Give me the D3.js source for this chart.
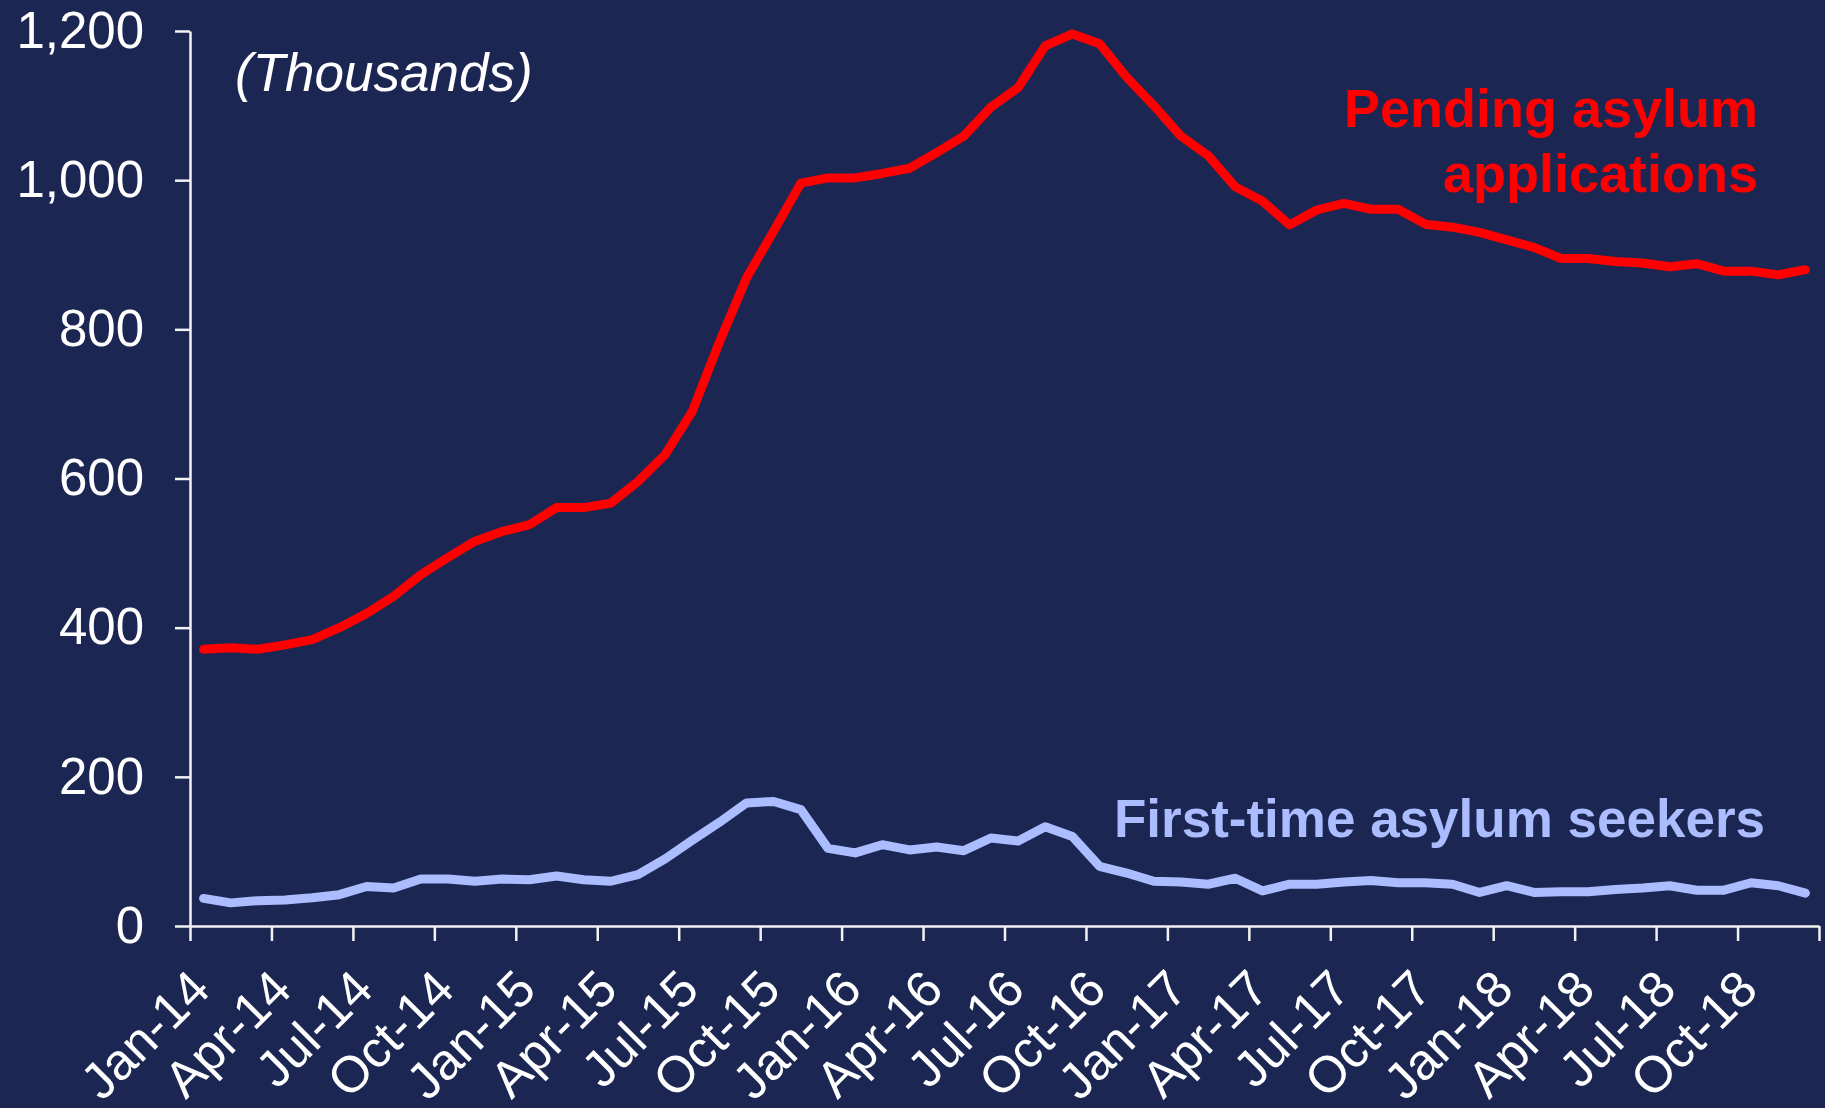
<!DOCTYPE html>
<html>
<head>
<meta charset="utf-8">
<script src="https://cdn.jsdelivr.net/npm/d3@7"></script>
<style>
  body { margin: 0; background: #1c2652; }
  svg { display: block; }
</style>
</head>
<body>
<div class="chart"></div>
<script>
// monthly categories, Jan-14 .. Dec-18
const months = [
  "Jan-14","Feb-14","Mar-14","Apr-14","May-14","Jun-14","Jul-14","Aug-14","Sep-14","Oct-14","Nov-14","Dec-14",
  "Jan-15","Feb-15","Mar-15","Apr-15","May-15","Jun-15","Jul-15","Aug-15","Sep-15","Oct-15","Nov-15","Dec-15",
  "Jan-16","Feb-16","Mar-16","Apr-16","May-16","Jun-16","Jul-16","Aug-16","Sep-16","Oct-16","Nov-16","Dec-16",
  "Jan-17","Feb-17","Mar-17","Apr-17","May-17","Jun-17","Jul-17","Aug-17","Sep-17","Oct-17","Nov-17","Dec-17",
  "Jan-18","Feb-18","Mar-18","Apr-18","May-18","Jun-18","Jul-18","Aug-18","Sep-18","Oct-18","Nov-18","Dec-18"
];

// thousands
const pending = [
  371, 373, 371, 377, 384, 400, 419, 442, 471, 494, 516, 529,
  538, 561, 561, 567, 596, 632, 690, 783, 869, 932, 996, 1003,
  1003, 1009, 1016, 1037, 1059, 1098, 1124, 1180, 1196, 1183, 1138, 1100,
  1059, 1033, 991, 972, 940, 960, 969, 961, 961, 941, 937, 930,
  920, 910, 895, 895, 891, 889, 884, 888, 878, 878, 873, 880
];

const firstTime = [
  37, 31, 34, 35, 38, 42, 53, 51, 63, 63, 60, 63,
  62, 67, 62, 60, 69, 90, 115, 139, 165, 167, 156, 104,
  98, 109, 102, 106, 101, 118, 114, 133, 120, 80, 71, 60,
  59, 56, 64, 47, 56, 56, 59, 61, 58, 58, 56, 45,
  54, 45, 46, 46, 49, 51, 54, 48, 48, 58, 54, 44
];

const xTickLabels = [
  "Jan-14","Apr-14","Jul-14","Oct-14","Jan-15","Apr-15","Jul-15","Oct-15","Jan-16","Apr-16",
  "Jul-16","Oct-16","Jan-17","Apr-17","Jul-17","Oct-17","Jan-18","Apr-18","Jul-18","Oct-18"
];
const yTicks = [0, 200, 400, 600, 800, 1000, 1200];

const svgWidth = 1825, svgHeight = 1108;
const plot = { left: 190, right: 1819, top: 31, bottom: 926 };

const svg = d3.select('div.chart')
  .append('svg')
  .attr('width', svgWidth)
  .attr('height', svgHeight);

svg.append('rect')
  .attr('width', svgWidth)
  .attr('height', svgHeight)
  .attr('fill', '#1c2652');

// category boundaries on a linear scale, points sit in the middle of each month
const xb = d3.scaleLinear().domain([0, months.length]).range([plot.left, plot.right]);
const xc = function (i) { return xb(i + 0.5); };

const y = d3.scaleLinear().domain([0, 1200]).range([plot.bottom, plot.top]);

const y_axis = d3.axisLeft(y)
  .tickValues(yTicks)
  .tickFormat(d3.format(","))
  .tickSize(15)
  .tickSizeOuter(0)
  .tickPadding(31);

const x_axis = d3.axisBottom(xb)
  .tickValues(d3.range(0, months.length + 1, 3))
  .tickFormat("")
  .tickSize(15)
  .tickSizeOuter(0);

const gy = svg.append('g')
  .attr('transform', 'translate(' + plot.left + ',0)')
  .call(y_axis);

const gx = svg.append('g')
  .attr('transform', 'translate(0,' + plot.bottom + ')')
  .call(x_axis);

[gx, gy].forEach(function (g) {
  g.selectAll('path, line').attr('stroke', '#f2f2f2').attr('stroke-width', 2.5);
  g.selectAll('text')
    .attr('fill', '#ffffff')
    .style('font-family', '"Liberation Sans", Arial, sans-serif')
    .style('font-size', '51px');
});

// rotated month labels, one per quarter
svg.append('g')
  .selectAll('text')
  .data(xTickLabels)
  .enter()
  .append('text')
  .attr('transform', function (d) {
    return 'translate(' + (xc(months.indexOf(d)) + 9) + ',' + 992 + ') rotate(-45)';
  })
  .attr('text-anchor', 'end')
  .attr('fill', '#ffffff')
  .style('font-family', '"Liberation Sans", Arial, sans-serif')
  .style('font-size', '51px')
  .text(function (d) { return d; });

const line = d3.line()
  .x(function (d, i) { return xc(i); })
  .y(function (d) { return y(d); });

svg.append('path')
  .datum(firstTime)
  .attr('d', line)
  .attr('fill', 'none')
  .attr('stroke', '#abbcff')
  .attr('stroke-width', 9)
  .attr('stroke-linejoin', 'round')
  .attr('stroke-linecap', 'round');

svg.append('path')
  .datum(pending)
  .attr('d', line)
  .attr('fill', 'none')
  .attr('stroke', '#ff0000')
  .attr('stroke-width', 9)
  .attr('stroke-linejoin', 'round')
  .attr('stroke-linecap', 'round');

svg.append('text')
  .attr('x', 235)
  .attr('y', 91)
  .attr('fill', '#ffffff')
  .style('font-family', '"Liberation Sans", Arial, sans-serif')
  .style('font-style', 'italic')
  .style('font-size', '53px')
  .text('(Thousands)');

const pendingLabel = svg.append('text')
  .attr('text-anchor', 'end')
  .attr('fill', '#ff0000')
  .style('font-family', '"Liberation Sans", Arial, sans-serif')
  .style('font-weight', 'bold')
  .style('font-size', '54px');
pendingLabel.append('tspan').attr('x', 1758).attr('y', 127).text('Pending asylum');
pendingLabel.append('tspan').attr('x', 1758).attr('y', 192).text('applications');

svg.append('text')
  .attr('x', 1765)
  .attr('y', 837)
  .attr('text-anchor', 'end')
  .attr('fill', '#abbcff')
  .style('font-family', '"Liberation Sans", Arial, sans-serif')
  .style('font-weight', 'bold')
  .style('font-size', '53px')
  .text('First-time asylum seekers');
</script>
</body>
</html>
